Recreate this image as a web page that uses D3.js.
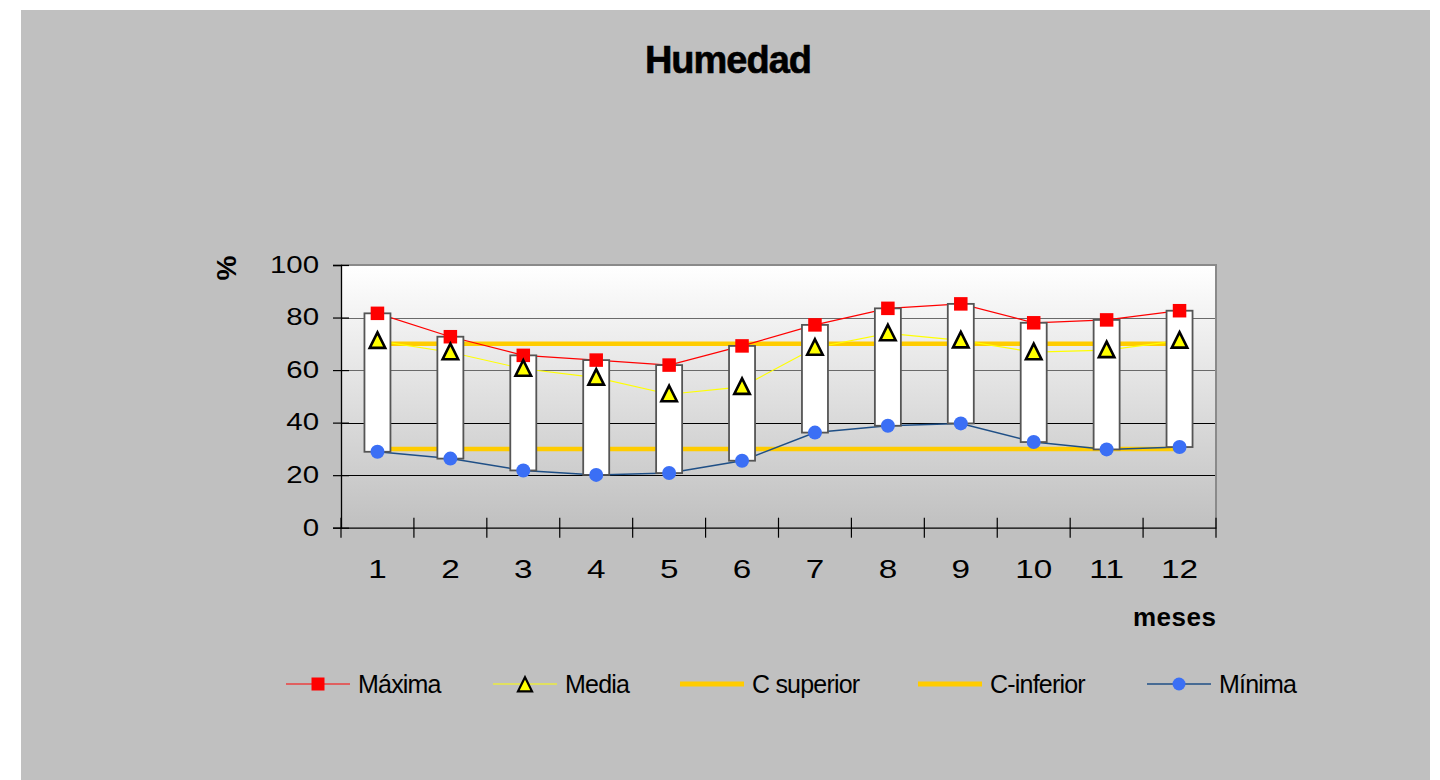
<!DOCTYPE html>
<html>
<head>
<meta charset="utf-8">
<script src="https://cdn.jsdelivr.net/npm/d3@7"></script>
<style>
  body { margin: 0; background: #ffffff; }
  svg { display: block; font-family: "Liberation Sans", Arial, sans-serif; }
</style>
</head>
<body>
<svg id="chart" width="1440" height="780"></svg>
<script>
// Monthly relative humidity (%)
const months    = ["1", "2", "3", "4", "5", "6", "7", "8", "9", "10", "11", "12"];
const maxima    = [81.6, 72.7, 65.6, 63.8, 61.9, 69.2, 77.2, 83.5, 85.2, 78.0, 79.1, 82.6];
const media     = [71.1, 66.8, 60.5, 57.1, 50.8, 53.6, 68.5, 74.0, 71.3, 66.8, 67.6, 71.2];
const cSuperior = [70, 70, 70, 70, 70, 70, 70, 70, 70, 70, 70, 70];
const cInferior = [30, 30, 30, 30, 30, 30, 30, 30, 30, 30, 30, 30];
const minima    = [28.9, 26.3, 21.8, 20.1, 20.8, 25.5, 36.2, 38.8, 39.7, 32.6, 29.8, 30.7];
const yTicks    = [0, 20, 40, 60, 80, 100];
const seriesNames = ["Máxima", "Media", "C superior", "C-inferior", "Mínima"];

const svg = d3.select("#chart");

// outer panel
svg.append("rect").attr("x", 21).attr("y", 10).attr("width", 1409).attr("height", 770).attr("fill", "#c0c0c0");

const plot = { left: 341, right: 1216, top: 265, bottom: 527.7 };

const x = d3.scaleBand().domain(months).range([plot.left, plot.right]);
const y = d3.scaleLinear().domain([0, 100]).range([plot.bottom, plot.top]);
const cx = m => x(m) + x.bandwidth() / 2;

// plot background gradient
const defs = svg.append("defs");
const grad = defs.append("linearGradient").attr("id", "plotBg").attr("x1", 0).attr("y1", 0).attr("x2", 0).attr("y2", 1);
grad.append("stop").attr("offset", "0%").attr("stop-color", "#ffffff");
grad.append("stop").attr("offset", "100%").attr("stop-color", "#c0c0c0");

svg.append("rect")
  .attr("x", plot.left).attr("y", plot.top)
  .attr("width", plot.right - plot.left).attr("height", plot.bottom - plot.top)
  .attr("fill", "url(#plotBg)");

// horizontal gridlines
svg.append("g").selectAll("line")
  .data(yTicks.filter(v => v > 0 && v < 100))
  .join("line")
  .attr("x1", plot.left).attr("x2", plot.right)
  .attr("y1", d => Math.round(y(d)) + 0.5).attr("y2", d => Math.round(y(d)) + 0.5)
  .attr("stroke", d => d >= 60 ? "#6a6a6a" : "#000000")
  .attr("stroke-width", 1.2);

// top and right frame
svg.append("path")
  .attr("d", `M${plot.left},${plot.top}H${plot.right}V${plot.bottom}`)
  .attr("fill", "none").attr("stroke", "#8a8a8a").attr("stroke-width", 2);

// series lines
const line = vals => d3.line().x((d, i) => cx(months[i])).y(d => y(d))(vals);

svg.append("path").attr("d", line(cSuperior)).attr("fill", "none").attr("stroke", "#ffcc00").attr("stroke-width", 4.5);
svg.append("path").attr("d", line(cInferior)).attr("fill", "none").attr("stroke", "#ffcc00").attr("stroke-width", 4.5);
svg.append("path").attr("d", line(maxima)).attr("fill", "none").attr("stroke", "#ff0000").attr("stroke-width", 1.2);
svg.append("path").attr("d", line(media)).attr("fill", "none").attr("stroke", "#ffff00").attr("stroke-width", 1.2);
svg.append("path").attr("d", line(minima)).attr("fill", "none").attr("stroke", "#1f4f86").attr("stroke-width", 1.5);

// high-low bars between maximum and minimum
const barW = 26;
svg.append("g").selectAll("rect")
  .data(months)
  .join("rect")
  .attr("x", m => cx(m) - barW / 2)
  .attr("y", (m, i) => y(maxima[i]))
  .attr("width", barW)
  .attr("height", (m, i) => y(minima[i]) - y(maxima[i]))
  .attr("fill", "#ffffff")
  .attr("stroke", "#555555")
  .attr("stroke-width", 1.8);

// markers
const sq = 13.5;
svg.append("g").selectAll("rect")
  .data(maxima)
  .join("rect")
  .attr("x", (d, i) => cx(months[i]) - sq / 2)
  .attr("y", d => y(d) - sq / 2)
  .attr("width", sq).attr("height", sq)
  .attr("fill", "#ff0000");

const triPath = (px, py, s) => `M${px},${py - s * 0.55}L${px + s / 2},${py + s * 0.45}L${px - s / 2},${py + s * 0.45}Z`;
svg.append("g").selectAll("path")
  .data(media)
  .join("path")
  .attr("d", (d, i) => triPath(cx(months[i]), y(d), 15.5))
  .attr("fill", "#ffff00").attr("stroke", "#000000").attr("stroke-width", 2.6)
  .attr("stroke-linejoin", "miter");

svg.append("g").selectAll("circle")
  .data(minima)
  .join("circle")
  .attr("cx", (d, i) => cx(months[i]))
  .attr("cy", d => y(d))
  .attr("r", 7)
  .attr("fill", "#3b6ff5");

// y axis
const yAxis = svg.append("g")
  .attr("transform", `translate(${plot.left},0)`)
  .call(d3.axisLeft(y).tickValues(yTicks).tickSize(8).tickPadding(0));
yAxis.select(".domain").attr("stroke", "#000").attr("stroke-width", 1.3);
yAxis.selectAll(".tick line").attr("x1", 8).attr("stroke", "#000").attr("stroke-width", 1.2);
const ySx = 1.28;
yAxis.selectAll(".tick text")
  .attr("x", -22 / ySx)
  .attr("transform", `scale(${ySx},1)`)
  .attr("font-size", 23)
  .attr("font-family", "Liberation Sans, Arial, sans-serif")
  .attr("fill", "#000");

// x axis: labels centred on categories, ticks between categories
const xAxis = svg.append("g")
  .attr("transform", `translate(0,${plot.bottom})`)
  .call(d3.axisBottom(x).tickSize(0).tickPadding(32));
xAxis.select(".domain").attr("stroke", "#000").attr("stroke-width", 1.3);
const xSx = 1.28;
xAxis.selectAll(".tick text")
  .attr("transform", `scale(${xSx},1)`)
  .attr("font-size", 26)
  .attr("font-family", "Liberation Sans, Arial, sans-serif")
  .attr("fill", "#000");
xAxis.append("g").selectAll("line")
  .data(months.map(m => x(m)).concat([plot.right]))
  .join("line")
  .attr("x1", d => d).attr("x2", d => d)
  .attr("y1", -10).attr("y2", 10)
  .attr("stroke", "#000").attr("stroke-width", 1.2);

// titles
svg.append("text")
  .attr("x", 728).attr("y", 72.5)
  .attr("text-anchor", "middle")
  .attr("font-size", 38).attr("font-weight", "bold")
  .attr("letter-spacing", -1)
  .attr("stroke", "#000").attr("stroke-width", 0.6)
  .text("Humedad");

svg.append("text")
  .attr("transform", "translate(226,268) rotate(-90)")
  .attr("text-anchor", "middle").attr("dy", "0.35em")
  .attr("font-size", 28).attr("font-weight", "bold")
  .text("%");

svg.append("text")
  .attr("x", 1133).attr("y", 626)
  .attr("font-size", 26).attr("font-weight", "bold")
  .attr("letter-spacing", 0.5)
  .text("meses");

// legend
const legendItems = [
  { name: seriesNames[0], color: "#ff0000", width: 1.2, marker: "square" },
  { name: seriesNames[1], color: "#ffff00", width: 1.2, marker: "triangle" },
  { name: seriesNames[2], color: "#ffcc00", width: 5, marker: null },
  { name: seriesNames[3], color: "#ffcc00", width: 5, marker: null },
  { name: seriesNames[4], color: "#1f4f86", width: 1.5, marker: "circle" }
];
const legendX = [286, 493, 680, 918, 1147];
const legend = svg.append("g");
const ly = 684;
legendItems.forEach((item, k) => {
  const lx = legendX[k];
  const g = legend.append("g");
  g.append("line").attr("x1", lx).attr("x2", lx + 64).attr("y1", ly).attr("y2", ly)
    .attr("stroke", item.color).attr("stroke-width", item.width);
  const mx = lx + 32;
  if (item.marker === "square") {
    g.append("rect").attr("x", mx - 6.5).attr("y", ly - 6.5).attr("width", 13).attr("height", 13).attr("fill", "#ff0000");
  } else if (item.marker === "triangle") {
    g.append("path").attr("d", triPath(mx, ly + 1, 14)).attr("fill", "#ffff00").attr("stroke", "#000").attr("stroke-width", 2.2);
  } else if (item.marker === "circle") {
    g.append("circle").attr("cx", mx).attr("cy", ly).attr("r", 6.5).attr("fill", "#3b6ff5");
  }
  g.append("text").attr("x", lx + 72).attr("y", ly + 9)
    .attr("font-size", 25).attr("letter-spacing", -0.8)
    .text(item.name);
});
</script>
</body>
</html>
